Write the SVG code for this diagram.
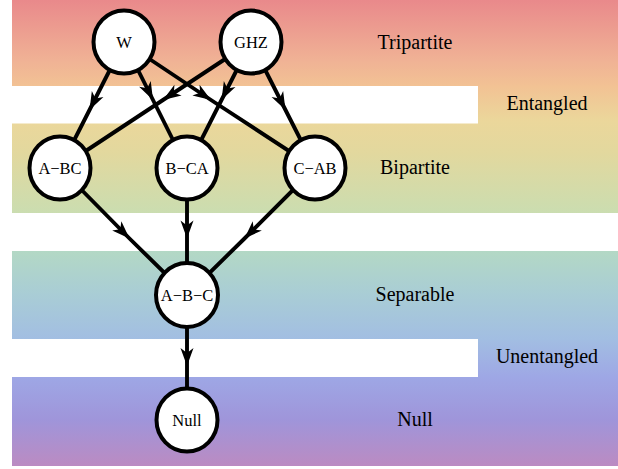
<svg xmlns="http://www.w3.org/2000/svg" width="618" height="469" viewBox="0 0 618 469">
  <style>
    .node ellipse { fill: #ffffff; stroke: #000000; stroke-width: 4; }
    .node text { font-family: "Liberation Serif", "Times New Roman", serif; font-size: 16.5px; fill: #000000; text-anchor: middle; }
    .band { font-family: "Liberation Serif", "Times New Roman", serif; font-size: 20px; fill: #000000; text-anchor: middle; }
    .edge { fill: none; stroke: #000000; stroke-width: 3.9; marker-mid: url(#arrow); }
  </style>
  <defs>
    <linearGradient id="bg" gradientUnits="userSpaceOnUse" x1="0" y1="0" x2="0" y2="466">
      <stop offset="0" stop-color="#E9898B"/>
      <stop offset="0.13" stop-color="#F0B295"/>
      <stop offset="0.185" stop-color="#F2C294"/>
      <stop offset="0.26" stop-color="#EBD79B"/>
      <stop offset="0.33" stop-color="#E2D89E"/>
      <stop offset="0.455" stop-color="#CBDDB0"/>
      <stop offset="0.54" stop-color="#B3D8C5"/>
      <stop offset="0.63" stop-color="#A9CDD5"/>
      <stop offset="0.727" stop-color="#A2BEE2"/>
      <stop offset="0.81" stop-color="#9EA7E5"/>
      <stop offset="0.9" stop-color="#9F95DA"/>
      <stop offset="1" stop-color="#BB8BC2"/>
    </linearGradient>
    <marker id="arrow" markerUnits="userSpaceOnUse" viewBox="-19 -7 21 14" refX="0" refY="0" markerWidth="21" markerHeight="14" orient="auto" overflow="visible">
      <path d="M0,0 L-18,-6.5 L-13,0 L-18,6.5 Z" fill="#000000"/>
    </marker>
  </defs>

  <g id="background">
    <rect x="12" y="0" width="606" height="466" fill="url(#bg)"/>
    <rect x="12" y="86" width="466" height="37.5" fill="#ffffff"/>
    <rect x="12" y="213" width="606" height="38" fill="#ffffff"/>
    <rect x="12" y="339" width="466" height="38" fill="#ffffff"/>
  </g>

  <g id="band-labels">
    <text class="band" x="415" y="48.5">Tripartite</text>
    <text class="band" x="547" y="110">Entangled</text>
    <text class="band" x="415" y="173.5">Bipartite</text>
    <text class="band" x="415" y="301">Separable</text>
    <text class="band" x="547" y="363">Unentangled</text>
    <text class="band" x="415" y="426">Null</text>
  </g>

  <g id="connectors">
    <path class="edge" d="M124,42 L89.5,110 L60,168"/>
    <path class="edge" d="M124,42 L153,100 L187,168"/>
    <path class="edge" d="M124,42 L211,100 L315,168"/>
    <path class="edge" d="M251,42 L163,100 L60,168"/>
    <path class="edge" d="M251,42 L221.5,100 L187,168"/>
    <path class="edge" d="M251,42 L285.5,110 L315,168"/>
    <path class="edge" d="M60,168 L129.5,238.5 L187,295"/>
    <path class="edge" d="M187,168 L187,238.5 L187,295"/>
    <path class="edge" d="M315,168 L244.5,238.5 L187,295"/>
    <path class="edge" d="M187,295 L187,366 L187,420"/>
  </g>

  <g id="node-W" class="node">
    <ellipse cx="124" cy="42" rx="30.5" ry="31.5"/>
    <text x="124" y="47.5">W</text>
  </g>
  <g id="node-GHZ" class="node">
    <ellipse cx="251" cy="42" rx="30.5" ry="31.5"/>
    <text x="251" y="47.5">GHZ</text>
  </g>
  <g id="node-A-BC" class="node">
    <ellipse cx="60" cy="168" rx="30.5" ry="31.5"/>
    <text x="60" y="173.5">A−BC</text>
  </g>
  <g id="node-B-CA" class="node">
    <ellipse cx="187" cy="168" rx="30.5" ry="31.5"/>
    <text x="187" y="173.5">B−CA</text>
  </g>
  <g id="node-C-AB" class="node">
    <ellipse cx="315" cy="168" rx="30.5" ry="31.5"/>
    <text x="315" y="173.5">C−AB</text>
  </g>
  <g id="node-A-B-C" class="node">
    <ellipse cx="187" cy="295" rx="31" ry="32"/>
    <text x="187" y="300.5">A−B−C</text>
  </g>
  <g id="node-Null" class="node">
    <ellipse cx="187" cy="420" rx="30.5" ry="31.5"/>
    <text x="187" y="425.5">Null</text>
  </g>
</svg>
